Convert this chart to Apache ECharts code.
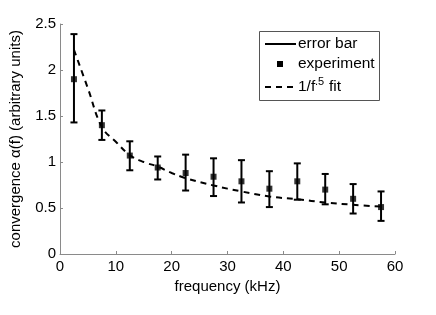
<!DOCTYPE html>
<html><head><meta charset="utf-8">
<script src="https://cdn.jsdelivr.net/npm/echarts@6/dist/echarts.min.js"></script>
<style>html,body{margin:0;padding:0;background:#fff}#c{width:436px;height:315px}</style>
</head><body><div id="c"></div>
<script>
var freq = [2.5, 7.5, 12.5, 17.5, 22.5, 27.5, 32.5, 37.5, 42.5, 47.5, 52.5, 57.5];
var experiment = [1.90, 1.40, 1.07, 0.94, 0.88, 0.84, 0.79, 0.71, 0.79, 0.70, 0.60, 0.51];
var errLow = [1.43, 1.24, 0.91, 0.81, 0.69, 0.63, 0.56, 0.51, 0.59, 0.54, 0.44, 0.36];
var errHigh = [2.39, 1.56, 1.225, 1.06, 1.08, 1.04, 1.02, 0.90, 0.985, 0.87, 0.76, 0.68];
var fitX = [2.5, 5, 7.5, 10, 12.5, 15, 17.5, 20, 22.5, 27.5, 32.5, 37.5, 42.5, 47.5, 52.5, 57.5];
var fitY = [2.22, 1.80, 1.38, 1.22, 1.075, 1.0, 0.95, 0.88, 0.825, 0.745, 0.68, 0.625, 0.595, 0.56, 0.535, 0.515];
var xTicks = [0, 10, 20, 30, 40, 50, 60];
var yTicks = [0, 0.5, 1, 1.5, 2, 2.5];

var FONT = 'Liberation Sans';
var chart = echarts.init(document.getElementById('c'));
var errData = freq.map(function (f, i) { return [f, errLow[i], errHigh[i]]; });
var expData = freq.map(function (f, i) { return [f, experiment[i]]; });
var fitData = fitX.map(function (f, i) { return [f, fitY[i]]; });
var LF = '15.5px "Liberation Sans"';

chart.setOption({
  animation: false,
  grid: { left: 57, right: 41, top: 24, bottom: 61 },
  xAxis: {
    type: 'value', min: 0, max: 60, interval: 10,
    name: 'frequency (kHz)', nameLocation: 'middle', nameGap: 21,
    nameTextStyle: { fontFamily: FONT, fontSize: 15, color: '#000' },
    axisLine: { lineStyle: { color: '#8a8a8a', width: 1 } },
    axisTick: { inside: true, length: 3, lineStyle: { color: '#8a8a8a' } },
    axisLabel: { fontFamily: FONT, fontSize: 15, color: '#000', margin: 5,
      formatter: function (v) { return xTicks.indexOf(v) >= 0 ? String(v) : ''; } },
    splitLine: { show: false }
  },
  yAxis: {
    type: 'value', min: 0, max: 2.5, interval: 0.5,
    name: 'convergence \u03b1(f) (arbitrary units)', nameLocation: 'middle', nameGap: 37,
    nameTextStyle: { fontFamily: FONT, fontSize: 15, color: '#000' },
    axisLine: { lineStyle: { color: '#8a8a8a', width: 1 } },
    axisTick: { inside: true, length: 3, lineStyle: { color: '#8a8a8a' } },
    axisLabel: { fontFamily: FONT, fontSize: 15, color: '#000', margin: 4,
      formatter: function (v) { return yTicks.indexOf(v) >= 0 ? String(v) : ''; } },
    splitLine: { show: false }
  },
  series: [
    {
      name: 'error bar', type: 'custom', data: errData, z: 3,
      renderItem: function (params, api) {
        var x = api.value(0);
        var lo = api.coord([x, api.value(1)]);
        var hi = api.coord([x, api.value(2)]);
        var w = 3.5;
        var st = { stroke: '#000', lineWidth: 2 };
        return { type: 'group', children: [
          { type: 'line', shape: { x1: lo[0], y1: lo[1], x2: hi[0], y2: hi[1] }, style: st },
          { type: 'line', shape: { x1: lo[0] - w, y1: lo[1], x2: lo[0] + w, y2: lo[1] }, style: st },
          { type: 'line', shape: { x1: hi[0] - w, y1: hi[1], x2: hi[0] + w, y2: hi[1] }, style: st }
        ] };
      }
    },
    {
      name: 'experiment', type: 'scatter', data: expData, symbol: 'rect', symbolSize: 6, z: 4,
      itemStyle: { color: '#000' }
    },
    {
      name: 'fit', type: 'line', data: fitData, smooth: 0.4, symbol: 'none', z: 2,
      lineStyle: { color: '#000', width: 2, type: [6, 5] }
    }
  ],
  graphic: [
    { type: 'rect', left: 259, top: 31, shape: { width: 120, height: 69 },
      style: { fill: '#fff', stroke: '#555', lineWidth: 1 }, z: 10 },
    { type: 'line', shape: { x1: 265, y1: 44, x2: 296, y2: 44 }, style: { stroke: '#000', lineWidth: 2 }, z: 11 },
    { type: 'text', left: 298, top: 36, style: { text: 'error bar', font: LF, fill: '#000' }, z: 11 },
    { type: 'rect', shape: { x: 277, y: 61, width: 6, height: 6 }, style: { fill: '#000' }, z: 11 },
    { type: 'text', left: 298, top: 56, style: { text: 'experiment', font: LF, fill: '#000' }, z: 11 },
    { type: 'line', shape: { x1: 265, y1: 87, x2: 297, y2: 87 }, style: { stroke: '#000', lineWidth: 2, lineDash: [6, 5] }, z: 11 },
    { type: 'text', left: 298, top: 79, style: { text: '1/f', font: LF, fill: '#000' }, z: 11 },
    { type: 'text', left: 315, top: 76, style: { text: '.5', font: '11px "Liberation Sans"', fill: '#000' }, z: 11 },
    { type: 'text', left: 329, top: 79, style: { text: 'fit', font: LF, fill: '#000' }, z: 11 }
  ]
});
</script>
</body></html>
